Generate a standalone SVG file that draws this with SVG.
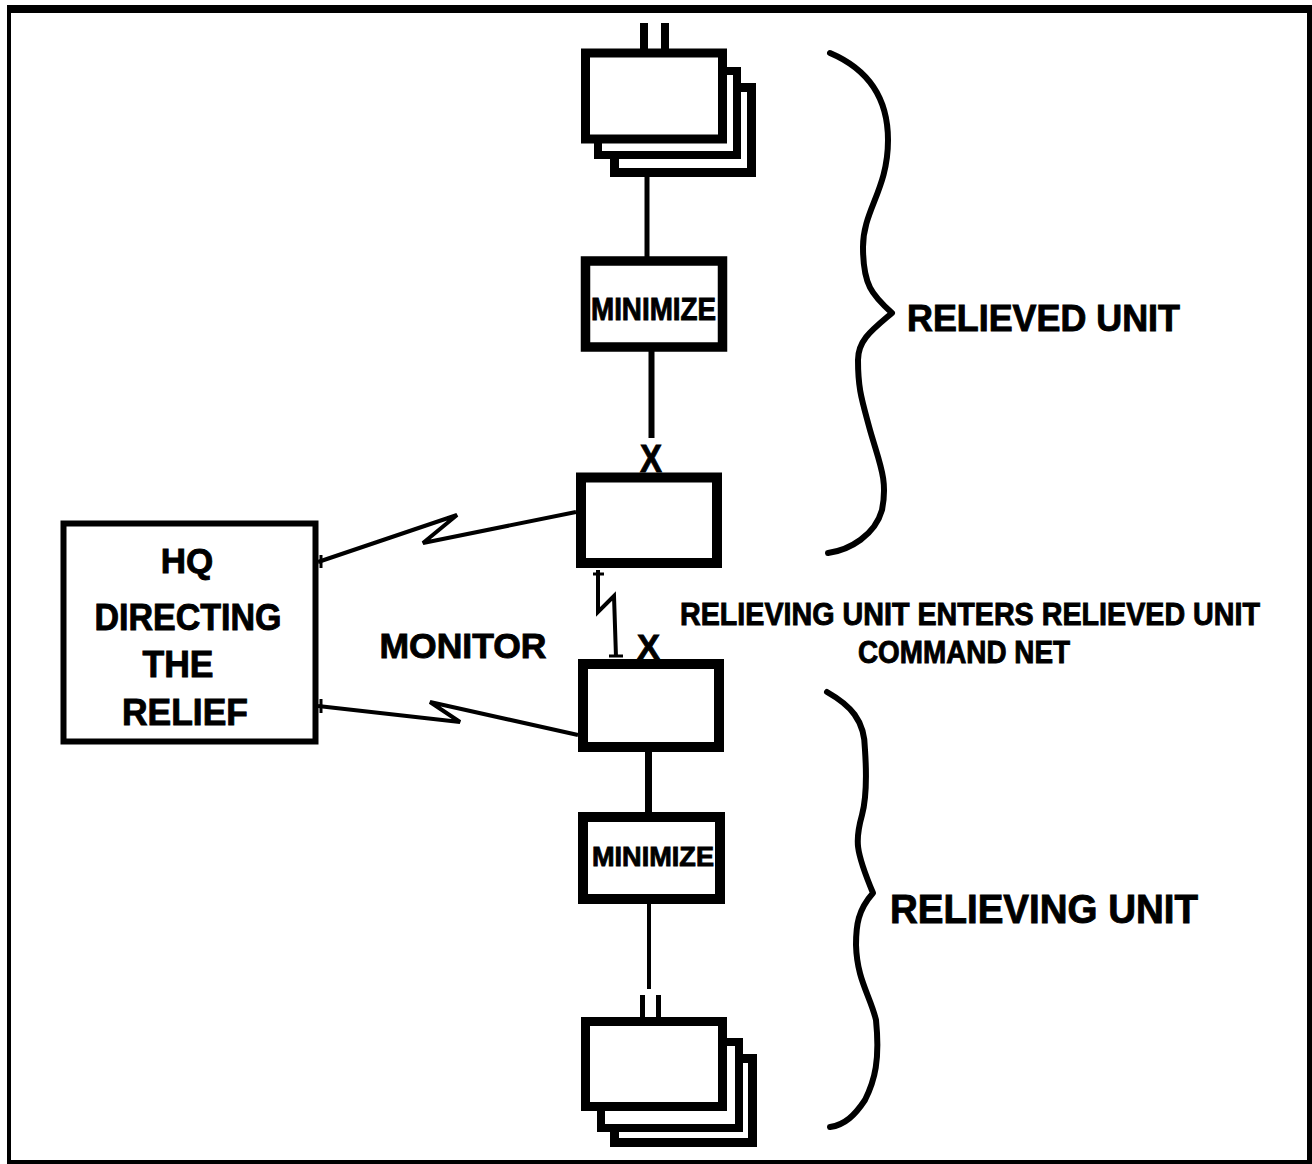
<svg xmlns="http://www.w3.org/2000/svg" width="1312" height="1164" viewBox="0 0 1312 1164">
<style>
.box{fill:#fff;stroke:#000}
.ln{fill:none;stroke:#000;stroke-linejoin:miter}
.br{fill:none;stroke:#000;stroke-width:6;stroke-linecap:round;stroke-linejoin:round}
.t{font-family:"Liberation Sans",Arial,sans-serif;font-weight:bold;fill:#000;stroke:#000;stroke-width:0.9}
</style>
<rect x="0" y="0" width="1312" height="1164" fill="#fff"/>
<g id="frame">
<rect x="7" y="5" width="1305" height="8" fill="#000"/>
<rect x="7" y="5" width="4" height="1159" fill="#000"/>
<rect x="1307" y="5" width="5" height="1159" fill="#000"/>
<rect x="7" y="1160" width="1305" height="4" fill="#000"/>
</g>
<g id="connectors">
<rect x="640" y="23" width="8" height="27" fill="#000"/>
<rect x="661" y="23" width="8" height="27" fill="#000"/>
<line class="ln" x1="647" y1="175" x2="647" y2="258" stroke-width="5"/>
<line class="ln" x1="651.5" y1="350" x2="651.5" y2="438" stroke-width="6"/>
<path class="ln" d="M598,570 L598,612 L614,596 L616,657" stroke-width="4"/>
<line class="ln" x1="593" y1="574" x2="604" y2="574" stroke-width="3"/>
<line class="ln" x1="609" y1="656" x2="623" y2="656" stroke-width="3"/>
<path class="ln" d="M576,512 L423,543 L457,515 L318,562" stroke-width="4"/>
<line class="ln" x1="321" y1="555" x2="321" y2="568" stroke-width="3"/>
<path class="ln" d="M318,706 L460,722 L430,702 L578,735" stroke-width="4"/>
<line class="ln" x1="321" y1="699" x2="321" y2="713" stroke-width="3"/>
<line class="ln" x1="648.5" y1="750" x2="648.5" y2="814" stroke-width="7"/>
<line class="ln" x1="649" y1="903" x2="649" y2="989" stroke-width="4"/>
<rect x="640" y="995" width="5" height="24" fill="#000"/>
<rect x="656" y="995" width="5" height="24" fill="#000"/>
</g>
<g id="relieved-stack">
<rect class="box" x="614.5" y="87.5" width="137" height="85" stroke-width="9"/>
<rect class="box" x="598" y="71" width="139" height="84" stroke-width="8"/>
<rect class="box" x="585.5" y="53" width="137" height="86" stroke-width="9"/>
</g>
<g id="minimize-top">
<rect class="box" x="585.5" y="261" width="137" height="86" stroke-width="9.5"/>
<text class="t" x="653.5" y="320" font-size="31" text-anchor="middle" textLength="125" lengthAdjust="spacingAndGlyphs">MINIMIZE</text>
</g>
<g id="relieved-cp">
<rect class="box" x="581" y="477.5" width="136" height="85.5" stroke-width="10"/>
<text class="t" x="651" y="472" font-size="38" text-anchor="middle" textLength="22" lengthAdjust="spacingAndGlyphs">X</text>
</g>
<g id="relieving-cp">
<rect class="box" x="583" y="664" width="136" height="83" stroke-width="10"/>
<text class="t" x="648.5" y="659" font-size="35" text-anchor="middle" textLength="23" lengthAdjust="spacingAndGlyphs">X</text>
</g>
<g id="minimize-bottom">
<rect class="box" x="583" y="817" width="137" height="82" stroke-width="10"/>
<text class="t" x="653" y="866" font-size="28" text-anchor="middle" textLength="122" lengthAdjust="spacingAndGlyphs">MINIMIZE</text>
</g>
<g id="relieving-stack">
<rect class="box" x="614.5" y="1058.5" width="138" height="84" stroke-width="9"/>
<rect class="box" x="601" y="1042" width="138" height="86" stroke-width="8"/>
<rect class="box" x="585.5" y="1021.5" width="137" height="85" stroke-width="9"/>
</g>
<g id="hq">
<rect class="box" x="63.5" y="523.5" width="252" height="218" stroke-width="6"/>
<text class="t" x="187" y="573" font-size="35" text-anchor="middle">HQ</text>
<text class="t" x="188" y="630" font-size="36" text-anchor="middle" textLength="187" lengthAdjust="spacingAndGlyphs">DIRECTING</text>
<text class="t" x="178" y="677" font-size="36" text-anchor="middle" textLength="71" lengthAdjust="spacingAndGlyphs">THE</text>
<text class="t" x="185" y="725" font-size="36" text-anchor="middle" textLength="126" lengthAdjust="spacingAndGlyphs">RELIEF</text>
</g>
<g id="labels">
<text class="t" x="463" y="658" font-size="35" text-anchor="middle" textLength="167" lengthAdjust="spacingAndGlyphs">MONITOR</text>
<text class="t" x="970" y="625" font-size="31" text-anchor="middle" textLength="580" lengthAdjust="spacingAndGlyphs">RELIEVING UNIT ENTERS RELIEVED UNIT</text>
<text class="t" x="964" y="663" font-size="31" text-anchor="middle" textLength="212" lengthAdjust="spacingAndGlyphs">COMMAND NET</text>
<text class="t" x="907" y="331" font-size="36" textLength="273" lengthAdjust="spacingAndGlyphs">RELIEVED UNIT</text>
<text class="t" x="890" y="923" font-size="40" textLength="308" lengthAdjust="spacingAndGlyphs">RELIEVING UNIT</text>
</g>
<g id="braces">
<path class="br" d="M830,53 C870,70 888,100 888,140 C888,190 863,210 863,247 C863,285 872,295 892,313 C872,330 858,340 858,360 C858,390 862,400 870,430 C880,465 888,480 882,510 C875,535 850,550 828,553"/>
<path class="br" d="M827,692 C850,705 865,720 865,750 C867,780 866,800 862,815 C855,840 855,850 873,893 C858,910 856,925 856,945 C857,980 870,995 876,1020 C880,1060 875,1080 865,1100 C855,1115 845,1125 830,1127"/>
</g>
</svg>
